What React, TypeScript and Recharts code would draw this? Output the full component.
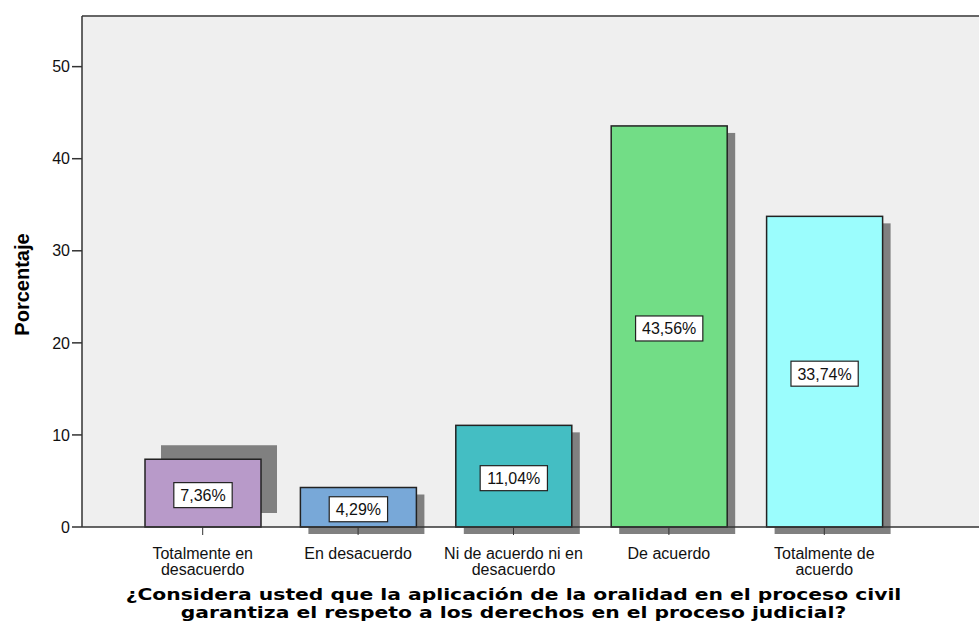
import React from "react";
import {
  BarChart,
  Bar,
  XAxis,
  YAxis,
  Cell,
  LabelList,
  ReferenceLine,
  CartesianGrid,
} from "recharts";

const categories = [
  "Totalmente en\ndesacuerdo",
  "En desacuerdo",
  "Ni de acuerdo ni en\ndesacuerdo",
  "De acuerdo",
  "Totalmente de\nacuerdo",
];
const percents = [7.36, 4.29, 11.04, 43.56, 33.74];
const barColors = ["#b89ac9", "#78a8d8", "#44bec3", "#72dd86", "#9bfdfd"];
const yTicks = [0, 10, 20, 30, 40, 50];
const yTitle = "Porcentaje";
const xTitle = [
  "¿Considera usted que la aplicación de la oralidad en el proceso civil",
  "garantiza el respeto a los derechos en el proceso judicial?",
];

const data = categories.map((c, i) => ({ name: c, value: percents[i] }));

const Y_MAX = 55.5;
const PAD_L = 43;
const PAD_R = 77;

const fmt = (v: number) => v.toFixed(2).replace(".", ",") + "%";

// rough Arial widths for digits / comma / percent
const textW = (s: string, size: number) =>
  s.split("").reduce((w, ch) => {
    if (ch === ",") return w + 0.278 * size;
    if (ch === "%") return w + 0.889 * size;
    return w + 0.556 * size;
  }, 0);

const ShadowBar = (props: any) => {
  const { x, y, width, height, fill, index } = props;
  // SPSS drew the first shadow up-right, the rest down-right
  const dx = index === 0 ? 16 : 8;
  const dy = index === 0 ? -14 : 7;
  return (
    <g>
      <rect x={x + dx} y={y + dy} width={width} height={height} fill="#808080" />
      <rect
        x={x}
        y={y}
        width={width}
        height={height}
        fill={fill}
        stroke="#222"
        strokeWidth={1.5}
      />
    </g>
  );
};

const ValueLabel = (props: any) => {
  const { x, y, width, height, value } = props;
  const txt = fmt(value);
  const size = 16;
  const w = textW(txt, size) + 13;
  const h = 25;
  const cx = x + width / 2;
  const cy = y + height / 2 + 2;
  return (
    <g>
      <rect
        x={cx - w / 2}
        y={cy - h / 2}
        width={w}
        height={h}
        fill="#fff"
        stroke="#222"
        strokeWidth={1.2}
      />
      <text
        x={cx}
        y={cy + 6}
        textAnchor="middle"
        fontSize={size}
        fontFamily="'Liberation Sans', Arial, sans-serif"
        fill="#111"
      >
        {txt}
      </text>
    </g>
  );
};

const CatTick = (props: any) => {
  const { x, y, payload } = props;
  const lines = String(payload.value).split("\n");
  return (
    <g>
      {lines.map((ln, i) => (
        <text
          key={i}
          x={x}
          y={y + 22 + i * 16}
          textAnchor="middle"
          fontSize={16}
          fontFamily="'Liberation Sans', Arial, sans-serif"
          fill="#111"
        >
          {ln}
        </text>
      ))}
    </g>
  );
};

const XTitle = (props: any) => {
  const vb = props.viewBox;
  const cx = vb.x + PAD_L + (vb.width - PAD_L - PAD_R) / 2;
  return (
    <g transform={`translate(${cx}, 0) scale(1.27, 1)`}>
      {xTitle.map((ln, i) => (
        <text
          key={i}
          x={0}
          y={600 + i * 18}
          textAnchor="middle"
          fontSize={16}
          fontWeight="bold"
          fontFamily="'DejaVu Sans', sans-serif"
          fill="#000"
        >
          {ln}
        </text>
      ))}
    </g>
  );
};

const YTitle = (props: any) => {
  const vb = props.viewBox;
  const cy = vb.y + vb.height / 2 + 13;
  return (
    <text
      x={22}
      y={cy}
      transform={`rotate(-90, 22, ${cy})`}
      textAnchor="middle"
      dominantBaseline="central"
      fontSize={20}
      fontWeight="bold"
      fontFamily="'Liberation Sans', Arial, sans-serif"
      fill="#000"
    >
      {yTitle}
    </text>
  );
};

export default function App() {
  return (
    <div style={{ position: "absolute", left: 0, top: 0, background: "#fff" }}>
      <BarChart
        width={979}
        height={626}
        data={data}
        margin={{ top: 16, right: 0, bottom: 0, left: 0 }}
        barSize={116}
      >
        <CartesianGrid
          horizontal={false}
          vertical={false}
          fill="#efefef"
        />
        <XAxis
          dataKey="name"
          height={99}
          padding={{ left: PAD_L, right: PAD_R }}
          tick={<CatTick />}
          tickLine={{ stroke: "#333" }}
          tickSize={8}
          axisLine={{ stroke: "#333", strokeWidth: 1.5 }}
          interval={0}
          label={<XTitle />}
        />
        <YAxis
          width={82}
          domain={[0, Y_MAX]}
          ticks={yTicks}
          tickSize={10}
          tickLine={{ stroke: "#333", strokeWidth: 1.5 }}
          axisLine={{ stroke: "#333", strokeWidth: 1.5 }}
          tick={{
            fontSize: 16,
            fill: "#111",
            fontFamily: "'Liberation Sans', Arial, sans-serif",
          }}
          label={<YTitle />}
        />
        <ReferenceLine y={Y_MAX} stroke="#666" strokeWidth={2} />
        <Bar dataKey="value" shape={<ShadowBar />} isAnimationActive={false}>
          {data.map((d, i) => (
            <Cell key={d.name} fill={barColors[i]} />
          ))}
          <LabelList dataKey="value" content={<ValueLabel />} />
        </Bar>
      </BarChart>
    </div>
  );
}
